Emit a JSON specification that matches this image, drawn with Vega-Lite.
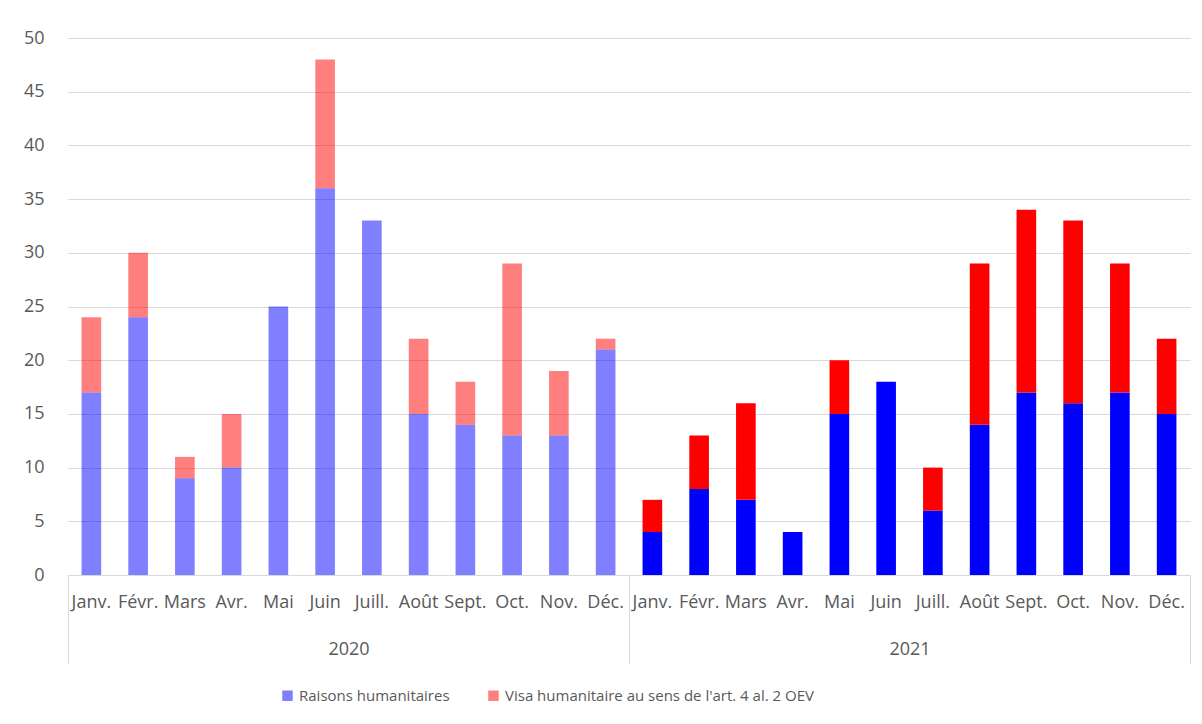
{
  "$schema": "https://vega.github.io/schema/vega-lite/v6.json",
  "width": 1122,
  "height": 537,
  "autosize": {"type": "none"},
  "padding": {"left": 68, "top": 38, "right": 12, "bottom": 149},
  "background": "white",
  "config": {
    "view": {"stroke": null},
    "font": "Open Sans",
    "axis": {"labelColor": "#595959", "labelFontSize": 18, "labelFont": "Open Sans"},
    "legend": {"labelColor": "#595959", "labelFontSize": 15, "labelFont": "Open Sans"}
  },
  "datasets": {
    "bars": [
      {"key": "2020 Janv.", "year": "2020", "series": "Raisons humanitaires", "value": 17},
      {"key": "2020 Janv.", "year": "2020", "series": "Visa humanitaire au sens de l'art. 4 al. 2 OEV", "value": 7},
      {"key": "2020 Févr.", "year": "2020", "series": "Raisons humanitaires", "value": 24},
      {"key": "2020 Févr.", "year": "2020", "series": "Visa humanitaire au sens de l'art. 4 al. 2 OEV", "value": 6},
      {"key": "2020 Mars", "year": "2020", "series": "Raisons humanitaires", "value": 9},
      {"key": "2020 Mars", "year": "2020", "series": "Visa humanitaire au sens de l'art. 4 al. 2 OEV", "value": 2},
      {"key": "2020 Avr.", "year": "2020", "series": "Raisons humanitaires", "value": 10},
      {"key": "2020 Avr.", "year": "2020", "series": "Visa humanitaire au sens de l'art. 4 al. 2 OEV", "value": 5},
      {"key": "2020 Mai", "year": "2020", "series": "Raisons humanitaires", "value": 25},
      {"key": "2020 Mai", "year": "2020", "series": "Visa humanitaire au sens de l'art. 4 al. 2 OEV", "value": 0},
      {"key": "2020 Juin", "year": "2020", "series": "Raisons humanitaires", "value": 36},
      {"key": "2020 Juin", "year": "2020", "series": "Visa humanitaire au sens de l'art. 4 al. 2 OEV", "value": 12},
      {"key": "2020 Juill.", "year": "2020", "series": "Raisons humanitaires", "value": 33},
      {"key": "2020 Juill.", "year": "2020", "series": "Visa humanitaire au sens de l'art. 4 al. 2 OEV", "value": 0},
      {"key": "2020 Août", "year": "2020", "series": "Raisons humanitaires", "value": 15},
      {"key": "2020 Août", "year": "2020", "series": "Visa humanitaire au sens de l'art. 4 al. 2 OEV", "value": 7},
      {"key": "2020 Sept.", "year": "2020", "series": "Raisons humanitaires", "value": 14},
      {"key": "2020 Sept.", "year": "2020", "series": "Visa humanitaire au sens de l'art. 4 al. 2 OEV", "value": 4},
      {"key": "2020 Oct.", "year": "2020", "series": "Raisons humanitaires", "value": 13},
      {"key": "2020 Oct.", "year": "2020", "series": "Visa humanitaire au sens de l'art. 4 al. 2 OEV", "value": 16},
      {"key": "2020 Nov.", "year": "2020", "series": "Raisons humanitaires", "value": 13},
      {"key": "2020 Nov.", "year": "2020", "series": "Visa humanitaire au sens de l'art. 4 al. 2 OEV", "value": 6},
      {"key": "2020 Déc.", "year": "2020", "series": "Raisons humanitaires", "value": 21},
      {"key": "2020 Déc.", "year": "2020", "series": "Visa humanitaire au sens de l'art. 4 al. 2 OEV", "value": 1},
      {"key": "2021 Janv.", "year": "2021", "series": "Raisons humanitaires", "value": 4},
      {"key": "2021 Janv.", "year": "2021", "series": "Visa humanitaire au sens de l'art. 4 al. 2 OEV", "value": 3},
      {"key": "2021 Févr.", "year": "2021", "series": "Raisons humanitaires", "value": 8},
      {"key": "2021 Févr.", "year": "2021", "series": "Visa humanitaire au sens de l'art. 4 al. 2 OEV", "value": 5},
      {"key": "2021 Mars", "year": "2021", "series": "Raisons humanitaires", "value": 7},
      {"key": "2021 Mars", "year": "2021", "series": "Visa humanitaire au sens de l'art. 4 al. 2 OEV", "value": 9},
      {"key": "2021 Avr.", "year": "2021", "series": "Raisons humanitaires", "value": 4},
      {"key": "2021 Avr.", "year": "2021", "series": "Visa humanitaire au sens de l'art. 4 al. 2 OEV", "value": 0},
      {"key": "2021 Mai", "year": "2021", "series": "Raisons humanitaires", "value": 15},
      {"key": "2021 Mai", "year": "2021", "series": "Visa humanitaire au sens de l'art. 4 al. 2 OEV", "value": 5},
      {"key": "2021 Juin", "year": "2021", "series": "Raisons humanitaires", "value": 18},
      {"key": "2021 Juin", "year": "2021", "series": "Visa humanitaire au sens de l'art. 4 al. 2 OEV", "value": 0},
      {"key": "2021 Juill.", "year": "2021", "series": "Raisons humanitaires", "value": 6},
      {"key": "2021 Juill.", "year": "2021", "series": "Visa humanitaire au sens de l'art. 4 al. 2 OEV", "value": 4},
      {"key": "2021 Août", "year": "2021", "series": "Raisons humanitaires", "value": 14},
      {"key": "2021 Août", "year": "2021", "series": "Visa humanitaire au sens de l'art. 4 al. 2 OEV", "value": 15},
      {"key": "2021 Sept.", "year": "2021", "series": "Raisons humanitaires", "value": 17},
      {"key": "2021 Sept.", "year": "2021", "series": "Visa humanitaire au sens de l'art. 4 al. 2 OEV", "value": 17},
      {"key": "2021 Oct.", "year": "2021", "series": "Raisons humanitaires", "value": 16},
      {"key": "2021 Oct.", "year": "2021", "series": "Visa humanitaire au sens de l'art. 4 al. 2 OEV", "value": 17},
      {"key": "2021 Nov.", "year": "2021", "series": "Raisons humanitaires", "value": 17},
      {"key": "2021 Nov.", "year": "2021", "series": "Visa humanitaire au sens de l'art. 4 al. 2 OEV", "value": 12},
      {"key": "2021 Déc.", "year": "2021", "series": "Raisons humanitaires", "value": 15},
      {"key": "2021 Déc.", "year": "2021", "series": "Visa humanitaire au sens de l'art. 4 al. 2 OEV", "value": 7}
    ],
    "years": [{"year": "2020"}, {"year": "2021"}]
  },
  "layer": [
    {
      "data": {"name": "bars"},
      "mark": {"type": "bar"},
      "encoding": {
        "x": {
          "field": "key", "type": "nominal", "sort": null,
          "scale": {"paddingInner": 0.58, "paddingOuter": 0.29},
          "axis": {
            "orient": "bottom", "title": null, "ticks": false, "domain": true,
            "domainColor": "#D9D9D9", "labelAngle": 0, "labelPadding": 18,
            "labelExpr": "split(datum.value, ' ')[1]", "grid": false
          }
        },
        "y": {
          "field": "value", "type": "quantitative", "stack": "zero",
          "scale": {"domain": [0, 50], "nice": false},
          "axis": {
            "title": null, "values": [0, 5, 10, 15, 20, 25, 30, 35, 40, 45, 50],
            "domain": false, "ticks": false, "labelPadding": 24,
            "gridColor": "#D9D9D9", "gridWidth": 1
          }
        },
        "color": {
          "field": "series", "type": "nominal",
          "scale": {"range": ["#0000FF", "#FF0000"]},
          "legend": {
            "orient": "none", "legendX": 212, "legendY": 650,
            "direction": "horizontal", "title": null,
            "symbolType": "square", "symbolSize": 110, "symbolOpacity": 0.5,
            "symbolStrokeWidth": 0, "labelOffset": 4, "columnPadding": 36,
            "labelLimit": 400
          }
        },
        "order": {"field": "series", "sort": "ascending"},
        "fillOpacity": {"condition": {"test": "datum.year == '2020'", "value": 0.5}, "value": 1}
      }
    },
    {
      "data": {"name": "years"},
      "mark": {"type": "text", "text": ""},
      "encoding": {
        "x": {
          "field": "year", "type": "nominal",
          "scale": {"paddingInner": 0, "paddingOuter": 0},
          "axis": {
            "orient": "bottom", "title": null, "domain": false,
            "tickBand": "extent", "tickSize": 89, "tickColor": "#D9D9D9",
            "labelPadding": -24, "labelAngle": 0, "grid": false
          }
        }
      }
    }
  ],
  "resolve": {"scale": {"x": "independent"}}
}
